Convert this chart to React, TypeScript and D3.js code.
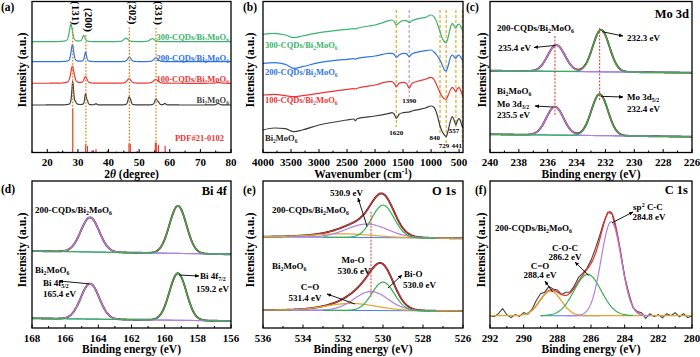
import React from "react";
import * as d3 from "d3";

const FONT = "'Liberation Serif','Times New Roman',Times,serif";

// ---------- (a) XRD ----------
const xrdPeakPos = [
  [28.3, 29.2, 32.5, 33.1, 35.9, 46.7, 47.2, 55.5, 56.3, 58.4, 75.8],
  [28.2, 32.5, 46.7, 55.4, 75.8],
  [28.2, 32.5, 46.8, 55.5],
  [27.7, 31.9, 45.7, 54.3],
];
const xrdPeakInt = [
  [23, 2, 11, 3, 1.2, 7.5, 2.5, 6, 2, 1.5, 1.5],
  [17, 6.5, 4.5, 3.8, 0.8],
  [17, 9.5, 4.5, 4],
  [17.5, 6, 3.6, 3],
];
const xrdPeakFwhm = [
  [0.7, 0.7, 0.65, 0.55, 0.7, 0.85, 0.6, 0.95, 0.7, 0.7, 1.2],
  [1.3, 1.15, 1.5, 1.8, 1.6],
  [1.0, 0.8, 1.3, 1.6],
  [1.2, 1.0, 1.6, 1.8],
];
const xrdOffsets = [47.5, 69.2, 90.8, 110.8];
const xrdPrefix = ["", "100-CQDs/", "200-CQDs/", "300-CQDs/"];
const pdfPos = [23.5, 25.3, 28.3, 32.5, 33.1, 34.6, 35.9, 39.6, 42.6, 46.7, 47.1, 49.4, 55.3, 55.6, 56.3, 58.5, 75.7];
const pdfInt = [1.5, 0.8, 43.5, 8.7, 6.7, 2, 3.3, 2, 1, 8.7, 8.7, 1.5, 10, 10, 7.7, 6.7, 1];
const hklPos = [28.3, 32.6, 46.8, 55.5];
const hklLabels = ["(131)", "(200)", "(202)", "(331)"];
const xrdTicks = [20, 30, 40, 50, 60, 70, 80];

// ---------- (b) FTIR ----------
const ftirWave = [4000, 3800, 3600, 3450, 3300, 3000, 2500, 2380, 2350, 2320, 2000, 1750, 1700, 1660, 1620, 1570, 1500, 1440, 1390, 1340, 1200, 1100, 1000, 950, 900, 860, 840, 800, 760, 729, 700, 650, 620, 590, 557, 530, 500, 470, 441, 430];
const ftirBMO = [22.5, 24.5, 23.8, 20.8, 22.5, 27.5, 32.5, 33.5, 31.8, 33.8, 36.5, 39.2, 39.8, 38.5, 34.2, 38.2, 39.8, 40.2, 40.5, 41.5, 43.2, 44.5, 46.5, 45.2, 39.2, 30.8, 26.5, 20.8, 17.5, 15.8, 20.8, 32.5, 35.8, 32.5, 27.5, 31.8, 34.2, 30.8, 25.8, 24.8];
const ftir100 = [57.5, 58.2, 56.8, 55.8, 56.8, 59.2, 63.2, 63.8, 63.5, 64.2, 67.5, 70.8, 70.8, 69.2, 65.8, 69.2, 70.2, 69.2, 64.2, 69.2, 71.8, 73.2, 75.2, 73.2, 67.5, 62.5, 59.8, 55.8, 53.5, 53.2, 56.5, 63.2, 65.2, 63.2, 60.8, 63.8, 64.8, 61.8, 57.5, 57.0];
const ftir200 = [89.2, 89.8, 88.2, 84.2, 85.8, 89.8, 93.2, 93.8, 93.2, 94.2, 96.5, 99.2, 99.2, 98.2, 95.2, 97.5, 99.2, 98.8, 95.8, 98.8, 100.8, 101.8, 102.5, 100.8, 97.5, 94.2, 92.5, 87.5, 82.5, 81.5, 85.8, 95.8, 97.5, 95.8, 94.2, 96.5, 97.5, 95.2, 92.5, 92.0];
const ftir300 = [118.2, 119.2, 117.5, 114.8, 116.5, 119.8, 123.2, 123.8, 123.5, 124.2, 127.5, 131.8, 132.5, 131.2, 127.5, 129.8, 131.8, 131.8, 129.8, 131.8, 134.2, 135.2, 137.5, 135.8, 130.8, 124.2, 120.8, 114.2, 110.8, 109.8, 114.2, 125.8, 129.2, 126.5, 124.2, 127.5, 128.5, 125.8, 122.5, 122.0];
const ftirBands = [1620, 1390, 840, 729, 557, 441];
const ftirTicks = [4000, 3500, 3000, 2500, 2000, 1500, 1000, 500];

// ---------- (c) Mo 3d ----------
const moCentersCQD = [235.4, 232.3];
const moHeightsCQD = [26.3, 42];
const moCentersBMO = [235.5, 232.4];
const moHeightsBMO = [28.3, 41.4];
const moFwhm = [1.4, 1.35];
const moBgCQD = [81.8, 79.8];
const moBgBMO = [18.2, 15.8];
const moTicks = [240, 238, 236, 234, 232, 230, 228, 226];

// ---------- (d) Bi 4f ----------
const biCenters = [164.5, 159.2];
const biHeightsCQD = [34.5, 47.5];
const biHeightsBMO = [35.5, 47];
const biFwhm = [1.3, 1.2];
const biBgCQD = [77, 73.7];
const biBgBMO = [9.7, 7];
const biTicks = [168, 166, 164, 162, 160, 158, 156];

// ---------- (e) O 1s  (C=O, Mo-O, Bi-O) ----------
const oCentersCQD = [532.0, 530.8, 530.0];
const oHeightsCQD = [3.5, 13.5, 32.5];
const oFwhmCQD = [3.5, 2.4, 1.3];
const oCentersBMO = [531.6, 530.6, 530.0];
const oHeightsBMO = [7, 19, 28.5];
const oFwhmBMO = [3.0, 2.0, 1.3];
const oBgCQD = [91.3, 89.7];
const oBgBMO = [18, 17];
const oTicks = [536, 534, 532, 530, 528, 526];

// ---------- (f) C 1s  (C=O, C-O-C, sp2 C-C) ----------
const cCenters = [288.4, 286.2, 284.8];
const cHeights = [24.7, 41.3, 94];
const cFwhm = [1.5, 1.9, 1.4];
const cBg = 12.3;
const cRawEnergy = d3.range(0, 49).map((i) => 292 - i * 0.25);
const cRawResidual = [0, -1, 2, 7, 1, -2, 1, -1, 2, -1, 1, 5, 6, 2, 4, 1, 2, 0, 3, 1, 2, 4, 2, 1, 3, 5, 4, 2, 1, 0, -2, 1, 0, 2, -1, 1, 2, -3, 2, -1, 1, -2, 2, 0, 3, -1, 2, -2, 0];
const cTicks = [292, 290, 288, 286, 284, 282, 280];

// ---------- colours ----------
const C_BLACK = "#3d3d3d";
const C_RED = "#ee3434";
const C_BLUE = "#2f74e6";
const C_GREEN = "#3cb46e";
const X_PURPLE = "#b47fe4";
const X_GREEN = "#34b24c";
const X_BLUE = "#4a80e8";
const X_GOLD = "#e0a72c";
const X_RED = "#e8302a";
const X_RAW = "#2a2a2a";

const LN = 4 * Math.LN2;
const gauss = (x: number, c: number, h: number, w: number) => h * Math.exp(-LN * ((x - c) / w) ** 2);
const pv = (x: number, c: number, h: number, w: number) => {
  const t = (x - c) / w;
  return h * (0.5 * Math.exp(-LN * t * t) + 0.5 / (1 + 4 * t * t));
};

function Sub({ t, fs }: { t: string; fs: number }) {
  return (
    <tspan fontSize={fs * 0.65} dy={fs * 0.25}>
      {t}
    </tspan>
  );
}
function BMO({ fs, prefix = "" }: { fs: number; prefix?: string }) {
  return (
    <>
      {prefix}Bi
      <tspan fontSize={fs * 0.65} dy={fs * 0.25}>2</tspan>
      <tspan dy={-fs * 0.25}>MoO</tspan>
      <tspan fontSize={fs * 0.65} dy={fs * 0.25}>6</tspan>
    </>
  );
}

function XAxis({ scale, y, ticks, minor, title }: any) {
  return (
    <g>
      {minor.map((t: number) => (
        <line key={"m" + t} x1={scale(t)} x2={scale(t)} y1={y} y2={y - 2} stroke="#000" strokeWidth={1} />
      ))}
      {ticks.map((t: number) => (
        <g key={"t" + t}>
          <line x1={scale(t)} x2={scale(t)} y1={y} y2={y - 3.5} stroke="#000" strokeWidth={1} />
          <text x={scale(t)} y={y + 13.5} textAnchor="middle" fontSize={11} fontWeight="bold">
            {t}
          </text>
        </g>
      ))}
      <text x={(scale.range()[0] + scale.range()[1]) / 2} y={y + 25} textAnchor="middle" fontSize={11.5} fontWeight="bold">
        {title}
      </text>
    </g>
  );
}

function YTitle({ x, y }: { x: number; y: number }) {
  return (
    <text transform={`translate(${x},${y}) rotate(-90)`} textAnchor="middle" fontSize={12} fontWeight="bold">
      Intensity (a.u.)
    </text>
  );
}

function Frame({ xs, ys }: any) {
  const [x0, x1] = xs.range();
  const [y1, y0] = ys.range();
  return <rect x={x0} y={y0} width={x1 - x0} height={y1 - y0} fill="none" stroke="#000" strokeWidth={1.3} />;
}

function Arrow({ x1, y1, x2, y2 }: any) {
  return <line x1={x1} y1={y1} x2={x2} y2={y2} stroke="#000" strokeWidth={0.9} markerEnd="url(#ah)" />;
}

export default function App() {
  const yT = d3.scaleLinear().domain([0, 151]).range([152.5, 1.5]);
  const yB = d3.scaleLinear().domain([0, 147]).range([328, 181]);
  const xa = d3.scaleLinear().domain([15, 80]).range([32, 231]);
  const xb = d3.scaleLinear().domain([4000, 430]).range([263, 463]);
  const xc = d3.scaleLinear().domain([240, 226]).range([490, 692]);
  const xd = d3.scaleLinear().domain([168, 156]).range([32, 231]);
  const xe = d3.scaleLinear().domain([536, 526]).range([263, 463]);
  const xf = d3.scaleLinear().domain([292, 280]).range([490, 692]);

  const mk = (xs: any, ys: any, pts: [number, number][], curve: any = d3.curveLinear) =>
    d3.line<[number, number]>().x((d) => xs(d[0])).y((d) => ys(d[1])).curve(curve)(pts) || "";

  // (a)
  const aGrid = d3.range(15, 80.001, 0.05);
  const xrdColors = [C_BLACK, C_RED, C_BLUE, C_GREEN];
  const aPaths = xrdOffsets.map((off, i) =>
    mk(xa, yT, aGrid.map((x) => [x, off + d3.sum(xrdPeakPos[i].map((c, j) => pv(x, c, xrdPeakInt[i][j], xrdPeakFwhm[i][j])))] as [number, number]))
  );
  const hklTop = [1, 8, 0.5, 1];

  // (b)
  const ftirSeries = [ftirBMO, ftir100, ftir200, ftir300];
  const bPaths = ftirSeries.map((s) => mk(xb, yT, ftirWave.map((w, i) => [w, s[i]] as [number, number]), d3.curveMonotoneX));
  const bandBottom = [127, 97, 134, 143, 127, 142];

  // generic XPS helpers
  const bgAt = (x: number, dom: number[], bg: number[]) => bg[0] + ((x - dom[0]) / (dom[1] - dom[0])) * (bg[1] - bg[0]);
  const compPath = (xs: any, ys: any, lo: number, hi: number, dom: number[], bg: number[], c: number, h: number, w: number) =>
    mk(xs, ys, d3.range(hi, lo - 0.001, -0.04).map((x) => [x, bgAt(x, dom, bg) + gauss(x, c, h, w)] as [number, number]));
  const envPath = (xs: any, ys: any, lo: number, hi: number, dom: number[], bg: number[], cs: number[], hs: number[], ws: number[]) =>
    mk(xs, ys, d3.range(hi, lo - 0.001, -0.04).map((x) => [x, bgAt(x, dom, bg) + d3.sum(cs.map((c, j) => gauss(x, c, hs[j], ws[j])))] as [number, number]));
  const bgPath = (xs: any, ys: any, lo: number, hi: number, dom: number[], bg: number[]) =>
    mk(xs, ys, [[hi, bgAt(hi, dom, bg)], [lo, bgAt(lo, dom, bg)]]);

  const cDom = [240, 226];
  const dDom = [168, 156];
  const eDom = [536, 526];
  const fDom = [292, 280];
  const fBg = [cBg, cBg];

  const xpsGroup = (xs: any, ys: any, dom: number[], bg: number[], cs: number[], hs: number[], ws: number[], colors: string[], ranges: number[][], envRange: number[]) => (
    <g fill="none">
      <path d={envPath(xs, ys, envRange[0], envRange[1], dom, bg, cs, hs, ws)} stroke={X_RAW} strokeWidth={1.9} />
      <path d={envPath(xs, ys, envRange[0], envRange[1], dom, bg, cs, hs, ws)} stroke={X_RED} strokeWidth={1.1} />
      <path d={bgPath(xs, ys, dom[1], dom[0], dom, bg)} stroke={X_BLUE} strokeWidth={1.1} />
      {cs.map((c, j) => (
        <path key={j} d={compPath(xs, ys, ranges[j][0], ranges[j][1], dom, bg, c, hs[j], ws[j])} stroke={colors[j]} strokeWidth={1.2} />
      ))}
    </g>
  );

  // (f) raw
  const fRaw = mk(
    xf,
    yB,
    cRawEnergy.map((x, i) => [x, cBg + d3.sum(cCenters.map((c, j) => gauss(x, c, cHeights[j], cFwhm[j]))) + cRawResidual[i]] as [number, number])
  );

  const fsLab = 9;

  return (
    <svg
      width={700}
      height={357}
      viewBox="0 0 700 357"
      style={{ position: "absolute", left: 0, top: 0, background: "#fff" }}
      fontFamily={FONT}
    >
      <defs>
        <marker id="ah" viewBox="0 0 10 10" refX="9" refY="5" markerWidth="5" markerHeight="5" orient="auto">
          <path d="M0,1 L10,5 L0,9 z" fill="#000" />
        </marker>
      </defs>
      <rect x={0} y={0} width={700} height={357} fill="#fff" />

      {/* ================= (a) ================= */}
      <g>
        {pdfPos.map((p, i) => (
          <line key={i} x1={xa(p)} x2={xa(p)} y1={yT(0)} y2={yT(pdfInt[i])} stroke={C_RED} strokeWidth={1.2} />
        ))}
        {aPaths.map((d, i) => (
          <path key={i} d={d} fill="none" stroke={xrdColors[i]} strokeWidth={1.2} />
        ))}
        {hklPos.map((p, i) => (
          <g key={i}>
            <line x1={xa(p)} x2={xa(p)} y1={hklTop[i] + 27} y2={148} stroke="#d9891c" strokeWidth={1.3} strokeDasharray="1.6 1.6" />
            <text transform={`translate(${xa(p) - 0.5},${hklTop[i]}) rotate(90)`} fontSize={11} fontWeight="bold" textAnchor="start">
              {hklLabels[i]}
            </text>
          </g>
        ))}
        {xrdPrefix.map((pf, i) => (
          <text key={i} x={229} y={[102.5, 81.5, 60.5, 39.5][i]} textAnchor="end" fontSize={8.5} fontWeight="bold" fill={i === 0 ? "#444" : xrdColors[i]}>
            <BMO fs={8.5} prefix={pf} />
          </text>
        ))}
        <text x={224} y={141} textAnchor="end" fontSize={8.5} fontWeight="bold" fill={C_RED}>
          PDF#21-0102
        </text>
        <Frame xs={xa} ys={yT} />
        <XAxis scale={xa} y={152.5} ticks={xrdTicks} minor={[15, 25, 35, 45, 55, 65, 75]} title={<>2<tspan fontStyle="italic">θ</tspan> (degree)</>} />
        <YTitle x={26} y={70} />
        <text x={1} y={11} fontSize={11.5} fontWeight="bold">(a)</text>
      </g>

      {/* ================= (b) ================= */}
      <g>
        {ftirBands.map((w, i) => (
          <line key={i} x1={xb(w)} x2={xb(w)} y1={10} y2={bandBottom[i]} stroke={w === 1390 ? "#c9a2ea" : "#e6b640"} strokeWidth={1.4} strokeDasharray="3 2" />
        ))}
        {bPaths.map((d, i) => (
          <path key={i} d={d} fill="none" stroke={xrdColors[i]} strokeWidth={1.2} />
        ))}
        {xrdPrefix.map((pf, i) => (
          <text key={i} x={265} y={[140.5, 103, 74.5, 47.5][i]} fontSize={8.5} fontWeight="bold" fill={i === 0 ? "#222" : xrdColors[i]}>
            <BMO fs={8.5} prefix={pf} />
          </text>
        ))}
        <g fontSize={7} fontWeight="bold" textAnchor="middle">
          <text x={xb(1620)} y={134.5}>1620</text>
          <text x={xb(1390)} y={103}>1390</text>
          <text x={440} y={139.5} textAnchor="end">840</text>
          <text x={444} y={148}>729</text>
          <text x={454} y={132.5}>557</text>
          <text x={462} y={148} textAnchor="end">441</text>
        </g>
        <Frame xs={xb} ys={yT} />
        <XAxis
          scale={xb}
          y={152.5}
          ticks={ftirTicks}
          minor={[3750, 3250, 2750, 2250, 1750, 1250, 750]}
          title={<>Wavenumber (cm<tspan fontSize={7.5} dy={-4}>-1</tspan><tspan dy={4}>)</tspan></>}
        />
        <YTitle x={254} y={70} />
        <text x={243} y={11} fontSize={11.5} fontWeight="bold">(b)</text>
      </g>

      {/* ================= (c) ================= */}
      <g>
        {xpsGroup(xc, yT, cDom, moBgCQD, moCentersCQD, moHeightsCQD, moFwhm, [X_PURPLE, X_GREEN], [[226, 240], [226, 240]], [226, 240])}
        {xpsGroup(xc, yT, cDom, moBgBMO, moCentersBMO, moHeightsBMO, moFwhm, [X_PURPLE, X_GREEN], [[226, 240], [226, 240]], [226, 240])}
        <line x1={xc(235.5)} x2={xc(235.5)} y1={36} y2={115} stroke={X_RED} strokeWidth={1} strokeDasharray="2 1.5" />
        <line x1={xc(232.4)} x2={xc(232.4)} y1={28} y2={100} stroke={X_RED} strokeWidth={1} strokeDasharray="2 1.5" />
        <g fontSize={fsLab} fontWeight="bold">
          <text x={497} y={31}><BMO fs={fsLab} prefix="200-CQDs/" /></text>
          <text x={498} y={51}>235.4 eV</text>
          <text x={627} y={41}>232.3 eV</text>
          <text x={497} y={94}><BMO fs={fsLab} /></text>
          <text x={497} y={107}>Mo 3d<Sub t="3/2" fs={fsLab} /></text>
          <text x={497} y={118}>235.5 eV</text>
          <text x={627} y={100}>Mo 3d<Sub t="5/2" fs={fsLab} /></text>
          <text x={627} y={112}>232.4 eV</text>
        </g>
        <Arrow x1={xc(235.4) - 1} y1={yT(moBgCQD[0] + moHeightsCQD[0]) + 1} x2={534} y2={47.5} />
        <Arrow x1={xc(232.3) + 1} y1={yT(moBgCQD[1] + moHeightsCQD[1]) + 1} x2={623} y2={36} />
        <Arrow x1={xc(235.5) - 2} y1={yT(moBgBMO[0] + moHeightsBMO[0]) + 1} x2={535} y2={106} />
        <Arrow x1={xc(232.4) + 1} y1={yT(moBgBMO[1] + moHeightsBMO[1]) + 1} x2={623} y2={97} />
        <text x={689} y={18} textAnchor="end" fontSize={12.5} fontWeight="bold">Mo 3d</text>
        <Frame xs={xc} ys={yT} />
        <XAxis scale={xc} y={152.5} ticks={moTicks} minor={[239, 237, 235, 233, 231, 229, 227]} title="Binding energy (eV)" />
        <YTitle x={486} y={70} />
        <text x={466} y={11} fontSize={11.5} fontWeight="bold">(c)</text>
      </g>

      {/* ================= (d) ================= */}
      <g>
        {xpsGroup(xd, yB, dDom, biBgCQD, biCenters, biHeightsCQD, biFwhm, [X_PURPLE, X_GREEN], [[156, 168], [156, 168]], [156, 168])}
        {xpsGroup(xd, yB, dDom, biBgBMO, biCenters, biHeightsBMO, biFwhm, [X_PURPLE, X_GREEN], [[156, 168], [156, 168]], [156, 168])}
        <g fontSize={fsLab} fontWeight="bold">
          <text x={35} y={213}><BMO fs={fsLab} prefix="200-CQDs/" /></text>
          <text x={35} y={273}><BMO fs={fsLab} /></text>
          <text x={43} y={286}>Bi 4f<Sub t="5/2" fs={fsLab} /></text>
          <text x={43} y={297}>165.4 eV</text>
          <text x={200} y={279}>Bi 4f<Sub t="7/2" fs={fsLab} /></text>
          <text x={196} y={292}>159.2 eV</text>
        </g>
        <Arrow x1={xd(164.5) - 1} y1={yB(biBgBMO[0] + biHeightsBMO[0]) + 1} x2={59} y2={281} />
        <Arrow x1={xd(159.2) + 1} y1={yB(biBgBMO[1] + biHeightsBMO[1]) + 1} x2={199} y2={276} />
        <text x={227} y={195} textAnchor="end" fontSize={12.5} fontWeight="bold">Bi 4f</text>
        <Frame xs={xd} ys={yB} />
        <XAxis scale={xd} y={328} ticks={biTicks} minor={[167, 165, 163, 161, 159, 157]} title="Binding energy (eV)" />
        <YTitle x={26} y={250} />
        <text x={1} y={193} fontSize={11.5} fontWeight="bold">(d)</text>
      </g>

      {/* ================= (e) ================= */}
      <g>
        {xpsGroup(xe, yB, eDom, oBgCQD, oCentersCQD, oHeightsCQD, oFwhmCQD, [X_GOLD, X_PURPLE, X_GREEN], [[526, 536], [527.3, 534.6], [527.3, 533]], [526, 536])}
        {xpsGroup(xe, yB, eDom, oBgBMO, oCentersBMO, oHeightsBMO, oFwhmBMO, [X_GOLD, X_PURPLE, X_GREEN], [[526, 536], [527.3, 534.6], [527.3, 533]], [526, 536])}
        <line x1={xe(530.6)} x2={xe(530.6)} y1={211.7} y2={296.7} stroke={X_RED} strokeWidth={1} strokeDasharray="2 1.5" />
        <g fontSize={fsLab} fontWeight="bold">
          <text x={272} y={213}><BMO fs={fsLab} prefix="200-CQDs/" /></text>
          <text x={272} y={269}><BMO fs={fsLab} /></text>
          <text x={330} y={196}>530.9 eV</text>
          <text x={353} y={263} textAnchor="middle">Mo-O</text>
          <text x={354} y={274} textAnchor="middle">530.6 eV</text>
          <text x={404} y={277}>Bi-O</text>
          <text x={403} y={288}>530.0 eV</text>
          <text x={310} y={290} textAnchor="middle">C=O</text>
          <text x={305} y={300.5} textAnchor="middle">531.4 eV</text>
        </g>
        <Arrow x1={xe(530.8)} y1={yB(oBgCQD[0] + 10.5)} x2={358} y2={198} />
        <Arrow x1={xe(529.75)} y1={yB(oBgBMO[0] + 22)} x2={402} y2={275} />
        <Arrow x1={xe(531.4)} y1={yB(oBgBMO[0] + 6)} x2={327} y2={294} />
        <text x={456} y={195} textAnchor="end" fontSize={12.5} fontWeight="bold">O 1s</text>
        <Frame xs={xe} ys={yB} />
        <XAxis scale={xe} y={328} ticks={oTicks} minor={[535, 533, 531, 529, 527]} title="Binding energy (eV)" />
        <YTitle x={254} y={250} />
        <text x={243} y={194} fontSize={11.5} fontWeight="bold">(e)</text>
      </g>

      {/* ================= (f) ================= */}
      <g fill="none">
        <path d={fRaw} stroke="#444" strokeWidth={1.1} />
        <path d={envPath(xf, yB, 283, 289.8, fDom, fBg, cCenters, cHeights, cFwhm)} stroke={X_RED} strokeWidth={1.3} />
        <path d={bgPath(xf, yB, 285.5, 289, fDom, fBg)} stroke={X_BLUE} strokeWidth={1.1} />
        <path d={compPath(xf, yB, 280, 292, fDom, fBg, cCenters[0], cHeights[0], cFwhm[0])} stroke={X_GOLD} strokeWidth={1.3} />
        <path d={compPath(xf, yB, 283.5, 289, fDom, fBg, cCenters[1], cHeights[1], cFwhm[1])} stroke={X_GREEN} strokeWidth={1.2} />
        <path d={compPath(xf, yB, 282.5, 287.5, fDom, fBg, cCenters[2], cHeights[2], cFwhm[2])} stroke={X_PURPLE} strokeWidth={1.2} />
      </g>
      <g>
        <g fontSize={fsLab} fontWeight="bold">
          <text x={495} y={231}><BMO fs={fsLab} prefix="200-CQDs/" /></text>
          <text x={648} y={210} textAnchor="middle">sp<tspan fontSize={6} dy={-3.5}>2</tspan><tspan dy={3.5}> C-C</tspan></text>
          <text x={649} y={220} textAnchor="middle">284.8 eV</text>
          <text x={565} y={251} textAnchor="middle">C-O-C</text>
          <text x={565} y={260} textAnchor="middle">286.2 eV</text>
          <text x={540} y={269} textAnchor="middle">C=O</text>
          <text x={540} y={278} textAnchor="middle">288.4 eV</text>
        </g>
        <Arrow x1={xf(284.8) + 1} y1={yB(cBg + cHeights[2]) + 1} x2={633} y2={212} />
        <Arrow x1={xf(286.2) + 1} y1={yB(cBg + cHeights[1]) + 1} x2={575} y2={262} />
        <Arrow x1={xf(288.4) + 2} y1={yB(cBg + cHeights[0]) + 1} x2={545} y2={281} />
        <text x={688} y={194} textAnchor="end" fontSize={12.5} fontWeight="bold">C 1s</text>
        <Frame xs={xf} ys={yB} />
        <XAxis scale={xf} y={328} ticks={cTicks} minor={[291, 289, 287, 285, 283, 281]} title="Binding energy (eV)" />
        <YTitle x={485} y={250} />
        <text x={475} y={194} fontSize={11.5} fontWeight="bold">(f)</text>
      </g>
    </svg>
  );
}
